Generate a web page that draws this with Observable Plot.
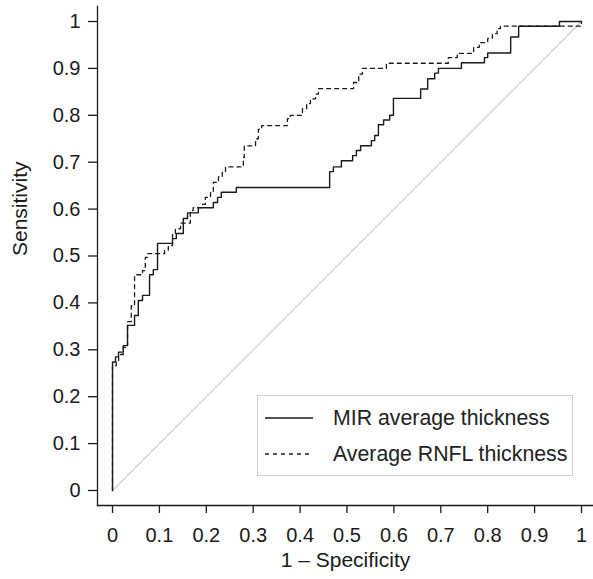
<!DOCTYPE html>
<html>
<head>
<meta charset="utf-8">
<script src="https://cdn.jsdelivr.net/npm/d3@7"></script>
<script src="https://cdn.jsdelivr.net/npm/@observablehq/plot@0.6"></script>
<style>
  html, body { margin: 0; padding: 0; background: #fff; }
  #wrap { position: relative; width: 593px; height: 579px; font-family: "Liberation Sans", Arial, Helvetica, sans-serif; }
  #legend { position: absolute; left: 257px; top: 395px; width: 314px; height: 79px; border: 1px solid #cfcfcf; background: #fff; font-size: 21.3px; color: #222; }
  .row { position: absolute; left: 0; height: 26px; display: flex; align-items: center; }
  .row svg { margin-left: 7px; margin-right: 20px; }
</style>
</head>
<body>
<div id="wrap"></div>
<script>
// ROC curve for MIR average thickness (1 - specificity, sensitivity)
const mirFpr = [0, 0, 0.0064, 0.0128, 0.023, 0.032, 0.047, 0.055, 0.064, 0.079, 0.087, 0.096, 0.128, 0.136, 0.151, 0.160, 0.183, 0.215, 0.224, 0.232, 0.264, 0.463, 0.471, 0.488, 0.512, 0.520, 0.529, 0.552, 0.559, 0.567, 0.578, 0.591, 0.599, 0.657, 0.672, 0.687, 0.695, 0.744, 0.793, 0.800, 0.849, 0.866, 0.953, 1];
const mirTpr = [0, 0.274, 0.285, 0.295, 0.309, 0.352, 0.373, 0.405, 0.416, 0.46, 0.471, 0.527, 0.537, 0.548, 0.58, 0.592, 0.603, 0.614, 0.625, 0.636, 0.646, 0.68, 0.69, 0.703, 0.714, 0.725, 0.735, 0.746, 0.757, 0.78, 0.79, 0.80, 0.836, 0.856, 0.878, 0.89, 0.90, 0.912, 0.923, 0.933, 0.967, 0.99, 1.0, 1.0];

// ROC curve for Average RNFL thickness
const rnflFpr = [0, 0, 0.008, 0.013, 0.023, 0.032, 0.040, 0.047, 0.064, 0.070, 0.075, 0.111, 0.119, 0.128, 0.134, 0.145, 0.166, 0.172, 0.192, 0.198, 0.209, 0.215, 0.226, 0.234, 0.241, 0.279, 0.281, 0.305, 0.311, 0.318, 0.373, 0.379, 0.405, 0.414, 0.422, 0.433, 0.439, 0.514, 0.525, 0.533, 0.584, 0.716, 0.735, 0.770, 0.782, 0.800, 0.810, 0.820, 0.827, 1];
const rnflTpr = [0, 0.266, 0.277, 0.29, 0.305, 0.36, 0.394, 0.46, 0.469, 0.497, 0.505, 0.512, 0.522, 0.548, 0.558, 0.57, 0.597, 0.603, 0.61, 0.625, 0.636, 0.657, 0.669, 0.678, 0.69, 0.71, 0.735, 0.75, 0.77, 0.778, 0.793, 0.80, 0.814, 0.825, 0.835, 0.845, 0.857, 0.87, 0.888, 0.90, 0.911, 0.923, 0.932, 0.945, 0.955, 0.964, 0.974, 0.985, 0.99, 1.0];

// Reference (chance) diagonal
const refX = [0, 1];
const refY = [0, 1];

// Ticks and labels
const xTicks = [0, 0.1, 0.2, 0.3, 0.4, 0.5, 0.6, 0.7, 0.8, 0.9, 1];
const xTickLabels = ["0", "0.1", "0.2", "0.3", "0.4", "0.5", "0.6", "0.7", "0.8", "0.9", "1"];
const yTicks = [0, 0.1, 0.2, 0.3, 0.4, 0.5, 0.6, 0.7, 0.8, 0.9, 1];
const yTickLabels = ["0", "0.1", "0.2", "0.3", "0.4", "0.5", "0.6", "0.7", "0.8", "0.9", "1"];
const xTitle = "1 – Specificity";
const yTitle = "Sensitivity";
const seriesNames = ["MIR average thickness", "Average RNFL thickness"];

const mir = mirFpr.map((x, i) => ({x, y: mirTpr[i]}));
const rnfl = rnflFpr.map((x, i) => ({x, y: rnflTpr[i]}));
const ref = refX.map((x, i) => ({x, y: refY[i]}));

const ink = "#1a1a1a";

const chart = Plot.plot({
  width: 593,
  height: 579,
  marginLeft: 97,
  marginRight: 0,
  marginTop: 6,
  marginBottom: 74,
  style: {fontSize: "20px", fontFamily: "'Liberation Sans', Arial, Helvetica, sans-serif", color: ink, background: "#fff"},
  x: {domain: [-0.032, 1.0256]},
  y: {domain: [-0.032, 1.032]},
  marks: [
    Plot.line(ref, {x: "x", y: "y", stroke: "#cccccc", strokeWidth: 1.2}),
    Plot.line(rnfl, {x: "x", y: "y", curve: "step-after", stroke: ink, strokeWidth: 1.3, strokeDasharray: "4,4"}),
    Plot.line(mir, {x: "x", y: "y", curve: "step-after", stroke: ink, strokeWidth: 1.4}),
    Plot.frame({anchor: "left", stroke: ink, strokeWidth: 1.3}),
    Plot.frame({anchor: "bottom", stroke: ink, strokeWidth: 1.3}),
    Plot.axisX({ticks: xTicks, tickSize: 8, tickPadding: 14, tickFormat: (d, i) => xTickLabels[i], label: null, strokeWidth: 1.3}),
    Plot.axisY({ticks: yTicks, tickSize: 9, tickPadding: 8, tickFormat: (d, i) => yTickLabels[i], label: null, strokeWidth: 1.3}),
    Plot.text([xTitle], {frameAnchor: "bottom", dy: 61, fill: ink, fontSize: 21}),
    Plot.text([yTitle], {frameAnchor: "left", dx: -77, rotate: -90, fill: ink, fontSize: 21})
  ]
});

const wrap = document.getElementById("wrap");
wrap.appendChild(chart);

// Legend (inside plot, bottom right)
const legend = document.createElement("div");
legend.id = "legend";
const dashes = [null, "4,4"];
seriesNames.forEach((name, i) => {
  const row = document.createElement("div");
  row.className = "row";
  row.style.top = (i === 0 ? 9 : 45) + "px";
  row.innerHTML = `<svg width="48" height="10"><line x1="0" y1="5" x2="48" y2="5" stroke="${ink}" stroke-width="1.3" ${dashes[i] ? `stroke-dasharray="${dashes[i]}"` : ""}/></svg><span>${name}</span>`;
  legend.appendChild(row);
});
wrap.appendChild(legend);
</script>
</body>
</html>
